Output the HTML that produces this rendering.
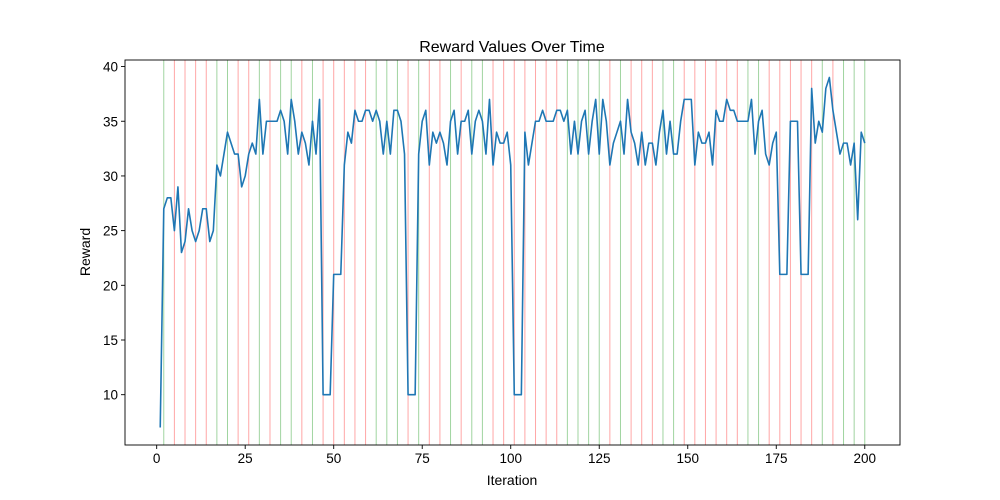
<!DOCTYPE html>
<html><head><meta charset="utf-8"><style>
html,body{margin:0;padding:0;background:#fff;}
svg{display:block;font-family:"Liberation Sans","DejaVu Sans",sans-serif;}
</style></head><body>
<svg id="chart" width="1000" height="500" viewBox="0 0 1000 500" xmlns="http://www.w3.org/2000/svg">
<rect width="1000" height="500" fill="#fff"/>
<text x="512" y="52" font-size="16" text-anchor="middle" fill="#000">Reward Values Over Time</text>
<text x="512" y="485" font-size="14" text-anchor="middle" fill="#000">Iteration</text>
<text x="90" y="252" font-size="14" text-anchor="middle" fill="#000" transform="rotate(-90 90 252)">Reward</text>
<g id="vlines"></g>
<g id="series"></g>
<g id="axes"></g>
</svg>
<script>
const rewards = [7,27,28,28,25,29,23,24,27,25,24,25,27,27,24,25,31,30,32,34,33,32,32,29,30,32,33,32,37,32,35,35,35,35,36,35,32,37,35,32,34,33,31,35,32,37,10,10,10,21,21,21,31,34,33,36,35,35,36,36,35,36,35,32,35,32,36,36,35,32,10,10,10,32,35,36,31,34,33,34,33,31,35,36,32,35,35,36,32,35,36,35,32,37,31,34,33,33,34,31,10,10,10,34,31,33,35,35,36,35,35,35,36,36,35,36,32,35,32,35,36,32,35,37,32,37,35,31,33,34,35,32,37,34,33,31,34,31,33,33,31,34,36,32,35,32,32,35,37,37,37,31,34,33,33,34,31,36,35,35,37,36,36,35,35,35,35,37,32,35,36,32,31,33,34,21,21,21,35,35,35,21,21,21,38,33,35,34,38,39,36,34,32,33,33,31,33,26,34,33];
const markerColors = ["g","r","r","r","r","g","g","r","r","g","r","g","g","r","g","r","r","r","r","r","g","g","g","r","g","r","r","g","r","g","g","r","r","r","r","r","r","r","g","g","g","g","r","g","r","r","r","g","g","r","r","r","r","r","r","g","g","r","r","r","r","r","g","r","g","g","g"];
const xTicks = [0,25,50,75,100,125,150,175,200];
const yTicks = [10,15,20,25,30,35,40];

const L=125,R=900,T=60,B=445;
const xMin=-8.95,xMax=209.95,yMin=5.4,yMax=40.6;
const xs=v=>L+(v-xMin)/(xMax-xMin)*(R-L);
const ys=v=>B-(v-yMin)/(yMax-yMin)*(B-T);
const NS="http://www.w3.org/2000/svg";
function mk(tag,attrs,parent){const e=document.createElementNS(NS,tag);for(const k in attrs)e.setAttribute(k,attrs[k]);parent.appendChild(e);return e;}

const vg=document.getElementById('vlines');
markerColors.forEach((c,i)=>{
  const it=2+3*i, x=xs(it);
  const ln=mk('line',{x1:x,x2:x,y1:T,y2:B,stroke:c==="g"?"#2ca02c":"#ff0000","stroke-opacity":c==="g"?0.45:0.35,"stroke-width":1},vg);
  
  
});

const sg=document.getElementById('series');
const pts=rewards.map((v,i)=>xs(i+1).toFixed(2)+","+ys(v).toFixed(2)).join(" ");
const pl=mk('polyline',{points:pts,fill:"none",stroke:"#1f77b4","stroke-width":1.6,"stroke-linejoin":"round"},sg);



const ag=document.getElementById('axes');
const fr=mk('rect',{x:L,y:T,width:R-L,height:B-T,fill:"none",stroke:"#000","stroke-width":0.9},ag);


xTicks.forEach(t=>{
  const x=xs(t);
  mk('line',{x1:x,x2:x,y1:B,y2:B+4,stroke:"#000","stroke-width":0.9},ag);
  const tx=mk('text',{x:x,y:B+18,"font-size":13.5,"text-anchor":"middle",fill:"#000"},ag);
  tx.textContent=t;
  
  
});
yTicks.forEach(t=>{
  const y=ys(t);
  mk('line',{x1:L-4,x2:L,y1:y,y2:y,stroke:"#000","stroke-width":0.9},ag);
  const tx=mk('text',{x:L-7,y:y+5,"font-size":13.5,"text-anchor":"end",fill:"#000"},ag);
  tx.textContent=t;
  
  
});
</script>
</body></html>
